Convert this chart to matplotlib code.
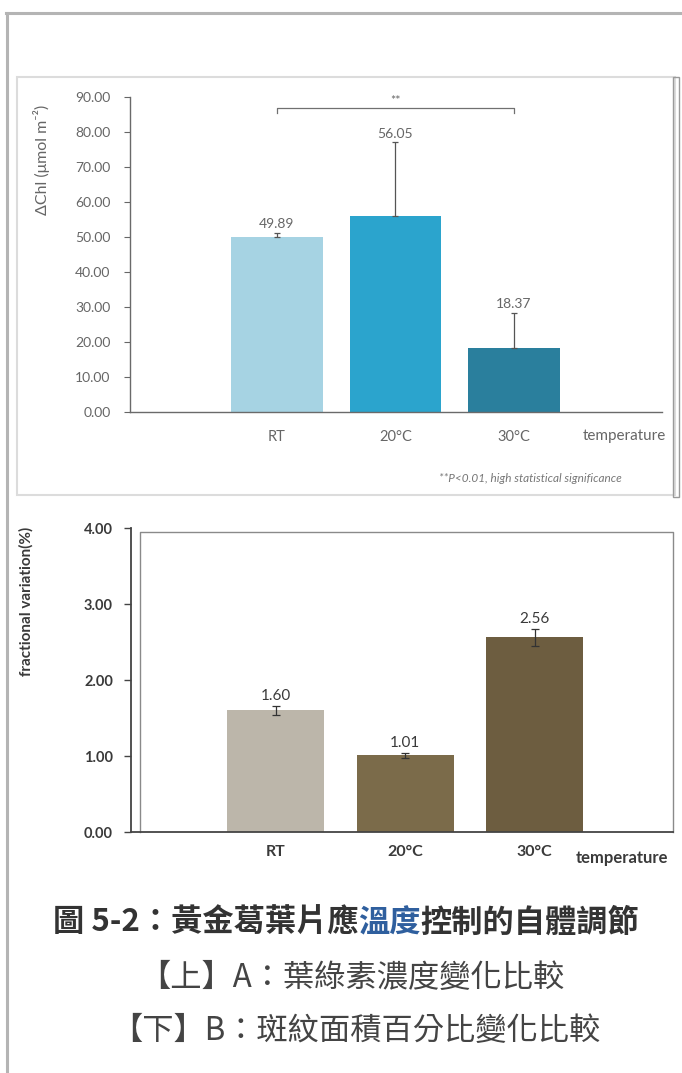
import matplotlib
matplotlib.use("Agg")
import matplotlib.pyplot as plt
from matplotlib.patches import Rectangle
from matplotlib.lines import Line2D

plt.rcParams['font.family'] = ['Lato', 'DejaVu Sans']

# chlorophyll change (top panel)
temps = ['RT', '20°C', '30°C']
chl = [49.89, 56.05, 18.37]
chl_err = [1.3, 21.0, 10.0]
chl_colors = ['#a6d3e3', '#2ba4cd', '#2a7f9d']

# variegation area change (bottom panel)
frac = [1.60, 1.01, 2.56]
frac_err = [0.06, 0.03, 0.11]
frac_colors = ['#bcb6aa', '#7b6b4a', '#6d5d40']

caption1 = ['圖 5-2：黃金葛葉片應', '溫度', '控制的自體調節']
caption2 = '【上】A：葉綠素濃度變化比較'
caption3 = '【下】B：斑紋面積百分比變化比較'

W, H = 682, 1073
fig = plt.figure(figsize=(W / 100, H / 100), dpi=100)


def box(x0, y0, x1, y1):
    return [x0 / W, 1 - y1 / H, (x1 - x0) / W, (y1 - y0) / H]


def fx(x):
    return x / W


def fy(y):
    return 1 - y / H


# page frame
fig.add_artist(Line2D([fx(6), 1], [fy(13), fy(13)], color='#b4b4b4', lw=2.2))
fig.add_artist(Line2D([fx(7), fx(7)], [fy(13), 0], color='#b4b4b4', lw=2.2))

# border of the top figure image
fig.add_artist(Rectangle((fx(17), fy(495)), fx(658), 418 / H, fill=False,
                         ec='#dcdcdc', lw=1.5))
fig.add_artist(Rectangle((fx(673), fy(497)), fx(6), 420 / H, fill=False,
                         ec='#9a9a9a', lw=1.0))

# ---- top panel ----
gray = '#666666'
ax1 = fig.add_axes(box(130, 97, 662, 412))
x = list(range(len(temps)))
ax1.bar(x, chl, width=0.77, color=chl_colors, zorder=2)
ax1.errorbar(x, chl, yerr=[[0] * 3, chl_err], fmt='none', ecolor='#555555',
             elinewidth=0.9, capsize=2.5, capthick=0.9, zorder=3)
for xi, v, e in zip(x, chl, chl_err):
    ax1.annotate(f'{v:.2f}', (xi, v + e), xytext=(0, 2), textcoords='offset points',
                 ha='center', va='bottom', fontsize=10, color=gray)
ax1.set_xlim(-1.24, 3.25)
ax1.set_ylim(0, 90)
ax1.set_yticks(range(0, 91, 10))
ax1.set_yticklabels([f'{t:.2f}' for t in range(0, 91, 10)])
ax1.set_xticks(x)
ax1.set_xticklabels(temps)
ax1.tick_params(axis='y', direction='out', length=4, width=0.8, color='#666666',
                labelsize=10, labelcolor=gray, pad=10)
ax1.tick_params(axis='x', length=0, labelsize=10.5, labelcolor=gray, pad=13)
for s in ['top', 'right']:
    ax1.spines[s].set_visible(False)
for s in ['left', 'bottom']:
    ax1.spines[s].set_color('#6a6a6a')
    ax1.spines[s].set_linewidth(1.0)
ax1.set_ylabel('ΔChl (μmol m⁻²)', fontsize=11.5, color=gray)
ax1.yaxis.set_label_coords(-0.15, 0.8)

# significance bracket between RT and 30°C
ax1.plot([0, 0, 2, 2], [85.5, 86.9, 86.9, 85.5], color='#707070', lw=0.9, clip_on=False)
ax1.text(1, 87.2, '**', ha='center', va='bottom', fontsize=9, color=gray)

fig.text(fx(624), fy(436), 'temperature', ha='center', va='center',
         fontsize=11, color=gray)
fig.text(fx(530), fy(478), '**P<0.01, high statistical significance', ha='center',
         va='center', fontsize=8.5, color='#777777', style='italic')

# ---- bottom panel ----
dark = '#3a3a3a'
ax2 = fig.add_axes(box(131, 528, 673, 832))
ax2.bar(x, frac, width=0.75, color=frac_colors, zorder=2)
ax2.errorbar(x, frac, yerr=frac_err, fmt='none', ecolor='#333333',
             elinewidth=0.9, capsize=3, capthick=0.9, zorder=3)
for xi, v, e in zip(x, frac, frac_err):
    ax2.annotate(f'{v:.2f}', (xi, v + e), xytext=(0, 2), textcoords='offset points',
                 ha='center', va='bottom', fontsize=11, color=dark)
ax2.set_xlim(-1.12, 3.07)
ax2.set_ylim(0, 4)
ax2.set_yticks(range(0, 5))
ax2.set_yticklabels([f'{t:.2f}' for t in range(0, 5)])
ax2.set_xticks(x)
ax2.set_xticklabels(temps)
ax2.tick_params(axis='y', direction='out', length=5, width=1.0, color='#444444',
                labelsize=10.5, labelcolor=dark, pad=8)
ax2.tick_params(axis='x', length=0, labelsize=11.5, labelcolor=dark, pad=9)
for lab in ax2.get_yticklabels() + ax2.get_xticklabels():
    lab.set_fontweight('bold')
ax2.spines['top'].set_visible(False)
ax2.spines['right'].set_visible(False)
for s in ['left', 'bottom']:
    ax2.spines[s].set_color('#444444')
    ax2.spines[s].set_linewidth(1.3)
# inner plot frame
inner_left = 9 / 542
inner_top = 1 - 4 / 304
ax2.plot([inner_left, inner_left, 1, 1], [0, inner_top, inner_top, 0],
         transform=ax2.transAxes, color='#8a8a8a', lw=1.0, clip_on=False, zorder=1)
ax2.set_ylabel('fractional variation(%)', fontsize=11, color=dark, fontweight='bold')
ax2.yaxis.set_label_coords(-0.18, 0.76)

fig.text(fx(622), fy(858), 'temperature', ha='center', va='center',
         fontsize=12, color=dark, fontweight='bold')

# ---- caption ----
cjk = ['Noto Sans CJK TC', 'DejaVu Sans']
renderer = fig.canvas.get_renderer()
parts = []
for txt, col in zip(caption1, ['#333333', '#2f5f9e', '#333333']):
    parts.append(fig.text(0, fy(923), txt, family=cjk, fontsize=22.5, fontweight='bold',
                          color=col, va='center', ha='left'))
widths = [p.get_window_extent(renderer).width for p in parts]
start = 346 - sum(widths) / 2
for p, w in zip(parts, widths):
    p.set_x(start / W)
    start += w

fig.text(fx(352), fy(978), caption2, family=cjk, fontsize=22.5, color='#444444',
         ha='center', va='center')
fig.text(fx(356), fy(1031), caption3, family=cjk, fontsize=22.5, color='#444444',
         ha='center', va='center')

fig.savefig('out.png', dpi=100)
